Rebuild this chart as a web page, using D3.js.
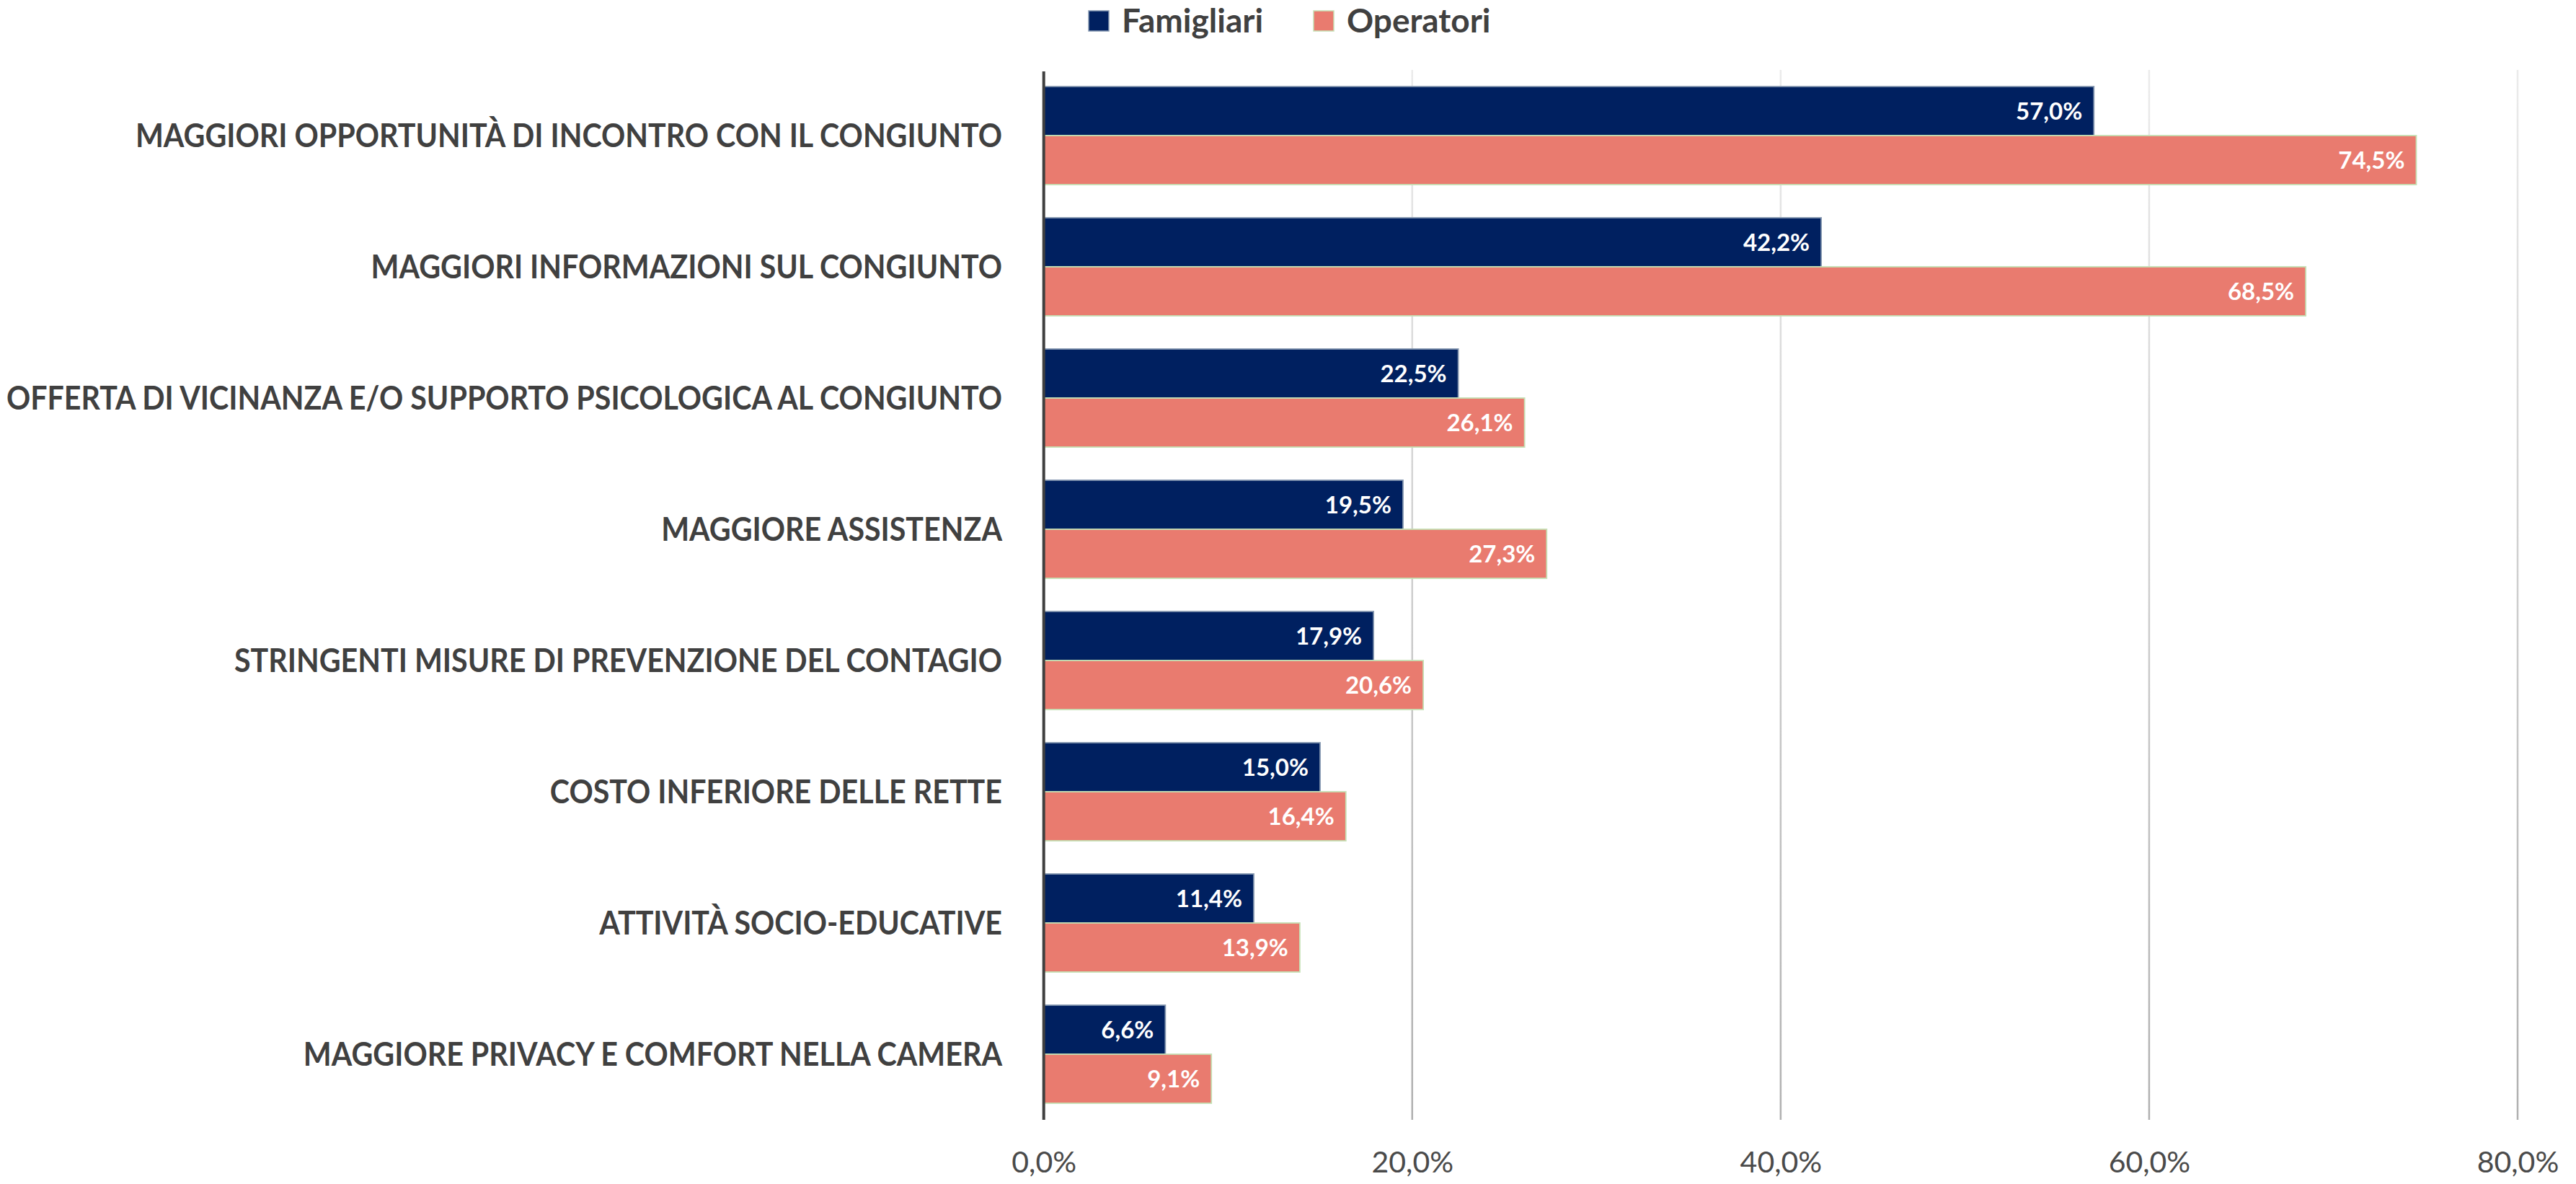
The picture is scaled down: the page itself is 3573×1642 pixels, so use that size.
<!DOCTYPE html>
<html>
<head>
<meta charset="utf-8">
<script src="https://cdn.jsdelivr.net/npm/d3@7"></script>
<style>
  body { margin: 0; background: #ffffff; }
  svg { display: block; }
  text { font-family: Lato, "Noto Sans", sans-serif; }
</style>
</head>
<body>
<div id="vis"></div>
<script>
// Frame
const FRAME_WIDTH = 3573;
const FRAME_HEIGHT = 1642;
const PLOT = { left: 1447.7, right: 3492, top: 97, bottom: 1553 };

// Data
const categories = [
    "MAGGIORI OPPORTUNITÀ DI INCONTRO CON IL CONGIUNTO",
    "MAGGIORI INFORMAZIONI SUL CONGIUNTO",
    "OFFERTA DI VICINANZA E/O SUPPORTO PSICOLOGICA AL CONGIUNTO",
    "MAGGIORE ASSISTENZA",
    "STRINGENTI MISURE DI PREVENZIONE DEL CONTAGIO",
    "COSTO INFERIORE DELLE RETTE",
    "ATTIVITÀ SOCIO-EDUCATIVE",
    "MAGGIORE PRIVACY E COMFORT NELLA CAMERA"
];
const seriesNames = ["Famigliari", "Operatori"];
const famigliari = [57.0, 42.2, 22.5, 19.5, 17.9, 15.0, 11.4, 6.6];
const operatori = [74.5, 68.5, 26.1, 27.3, 20.6, 16.4, 13.9, 9.1];
const xTicks = [0, 20, 40, 60, 80];

const COLORS = { Famigliari: "#002060", Operatori: "#e97b6f" };
const STROKES = { Famigliari: "#8497b0", Operatori: "#c5e0b4" };

// rows for the bars
const rows = [];
categories.forEach((c, i) => {
    rows.push({ cat: c, series: "Famigliari", value: famigliari[i] });
    rows.push({ cat: c, series: "Operatori", value: operatori[i] });
});

// italian number format
const IT = d3.formatLocale({ decimal: ",", thousands: ".", grouping: [3], currency: ["", "€"] });
const fmt = (v) => IT.format(".1f")(v) + "%";

const svg = d3.select("#vis")
    .append("svg")
    .attr("width", FRAME_WIDTH)
    .attr("height", FRAME_HEIGHT);

// scales
const X_SCALE = d3.scaleLinear()
    .domain([0, 80])
    .range([PLOT.left, PLOT.right]);

const Y_SCALE = d3.scaleBand()
    .domain(categories)
    .range([PLOT.top, PLOT.bottom])
    .paddingInner(0.2527)
    .paddingOuter(0.1264);

const SUB = d3.scaleBand()
    .domain(seriesNames)
    .range([0, Y_SCALE.bandwidth()]);

// gradient for the gridlines (light on top, darker at the bottom)
const grad = svg.append("defs").append("linearGradient")
    .attr("id", "gridGrad")
    .attr("gradientUnits", "userSpaceOnUse")
    .attr("x1", 0).attr("x2", 0)
    .attr("y1", PLOT.top).attr("y2", PLOT.bottom);
grad.append("stop").attr("offset", "0%").attr("stop-color", "#ebebeb");
grad.append("stop").attr("offset", "100%").attr("stop-color", "#b0b0b0");

// gridlines
svg.append("g")
    .selectAll("line")
    .data(xTicks.filter(t => t > 0))
    .enter()
    .append("line")
    .attr("x1", d => X_SCALE(d))
    .attr("x2", d => X_SCALE(d))
    .attr("y1", PLOT.top)
    .attr("y2", PLOT.bottom)
    .attr("stroke", "url(#gridGrad)")
    .attr("stroke-width", 2.5);

// x axis labels
const xAxis = svg.append("g")
    .attr("transform", "translate(0," + PLOT.bottom + ")")
    .call(d3.axisBottom(X_SCALE).tickValues(xTicks).tickFormat(fmt).tickSize(0).tickPadding(0));
xAxis.select(".domain").remove();
xAxis.selectAll("text")
    .attr("y", 73)
    .attr("dy", null)
    .attr("font-size", "41px")
    .attr("font-family", "Lato, sans-serif")
    .attr("fill", "#4a4a4a");

// bars
svg.append("g")
    .selectAll("rect")
    .data(rows)
    .enter()
    .append("rect")
    .attr("x", X_SCALE(0))
    .attr("y", d => Y_SCALE(d.cat) + SUB(d.series))
    .attr("width", d => X_SCALE(d.value) - X_SCALE(0))
    .attr("height", SUB.bandwidth())
    .attr("fill", d => COLORS[d.series])
    .attr("stroke", d => STROKES[d.series])
    .attr("stroke-width", 1.8);

// value labels
svg.append("g")
    .selectAll("text")
    .data(rows)
    .enter()
    .append("text")
    .attr("x", d => X_SCALE(d.value) - 16)
    .attr("y", d => Y_SCALE(d.cat) + SUB(d.series) + SUB.bandwidth() / 2 + 12)
    .attr("text-anchor", "end")
    .attr("font-size", "33px")
    .attr("font-weight", "bold")
    .attr("fill", "#ffffff")
    .text(d => fmt(d.value));

// vertical axis line
svg.append("line")
    .attr("x1", X_SCALE(0))
    .attr("x2", X_SCALE(0))
    .attr("y1", PLOT.top + 2)
    .attr("y2", PLOT.bottom)
    .attr("stroke", "#404040")
    .attr("stroke-width", 4);

// category labels (Lato is wider than the original font, squeeze a bit)
svg.append("g")
    .selectAll("text")
    .data(categories)
    .enter()
    .append("text")
    .attr("x", 1390)
    .attr("y", d => Y_SCALE(d) + Y_SCALE.bandwidth() / 2 + 16)
    .attr("text-anchor", "end")
    .attr("font-size", "45px")
    .attr("font-weight", "bold")
    .attr("fill", "#404040")
    .text(d => d)
    .each(function () {
        const w = this.getComputedTextLength();
        d3.select(this)
            .attr("textLength", w * 0.915)
            .attr("lengthAdjust", "spacingAndGlyphs");
    });

// legend
const LEGEND_X = [1510, 1822];
const legend = svg.append("g")
    .selectAll("g")
    .data(seriesNames)
    .enter()
    .append("g")
    .attr("transform", (d, i) => "translate(" + LEGEND_X[i] + ",15)");
legend.append("rect")
    .attr("width", 28)
    .attr("height", 28)
    .attr("fill", d => COLORS[d])
    .attr("stroke", d => STROKES[d])
    .attr("stroke-width", 1.5);
legend.append("text")
    .attr("x", 46)
    .attr("y", 30)
    .attr("font-size", "46px")
    .attr("font-weight", "bold")
    .attr("fill", "#404040")
    .text(d => d);
</script>
</body>
</html>
